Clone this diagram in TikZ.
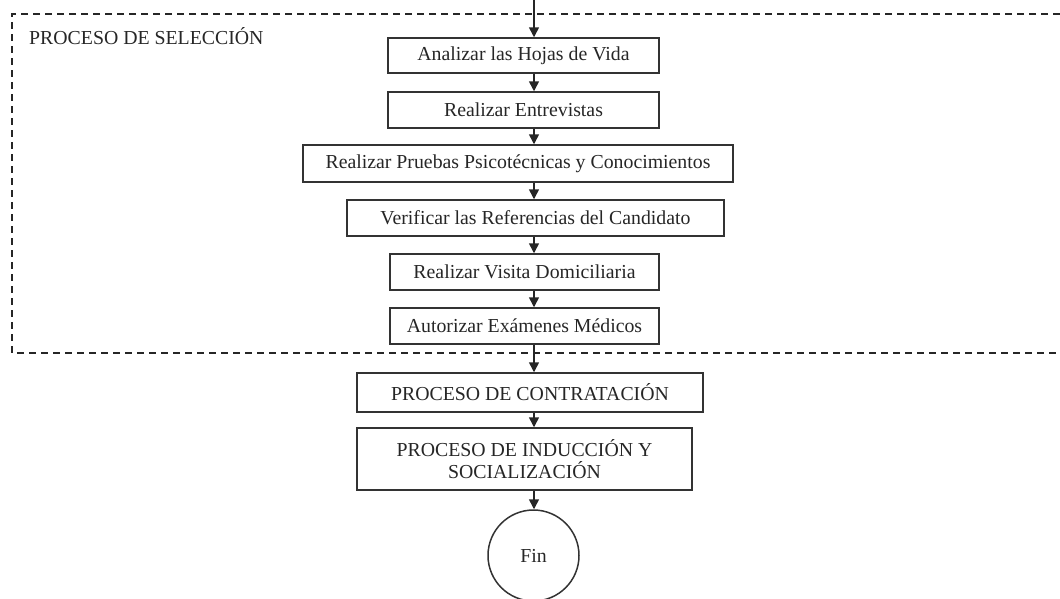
\documentclass[tikz,border=0pt]{standalone}
\usepackage{fontspec}
\setmainfont{Liberation Serif}
\usetikzlibrary{arrows.meta}
\begin{document}
\begin{tikzpicture}[x=1pt,y=-1pt,
  txt/.style={font=\fontsize{19.8}{22}\selectfont, text=black!85},
  box/.style={txt, draw=black!80, line width=1.5pt, rectangle, inner sep=0pt, align=center},
  arr/.style={draw=black!85, line width=1.5pt, -{Triangle[width=10pt,length=10pt]}},
  grp/.style={draw=black!85, line width=1.6pt, dash pattern=on 7pt off 5pt}]
\useasboundingbox (0,0) rectangle (1060,598);
\coordinate (start) at (534,0);
\draw[grp] (1060,14) -- (12,14) -- (12,353) -- (1060,353);
\node[txt, anchor=west, inner sep=0pt] (lbl) at (29,36) {PROCESO DE SELECCIÓN};
\node[box, minimum width=271pt, minimum height=35pt] (b1) at (523.5,55.5) {Analizar las Hojas de Vida};
\node[box, minimum width=271pt, minimum height=36pt] (b2) at (523.5,110) {Realizar Entrevistas};
\node[box, minimum width=430pt, minimum height=37pt] (b3) at (518,163.5) {Realizar Pruebas Psicotécnicas y Conocimientos};
\node[box, minimum width=377pt, minimum height=36pt] (b4) at (535.5,218) {Verificar las Referencias del Candidato};
\node[box, minimum width=269pt, minimum height=36pt] (b5) at (524.5,272) {Realizar Visita Domiciliaria};
\node[box, minimum width=269pt, minimum height=36pt] (b6) at (524.5,326) {Autorizar Exámenes Médicos};
\node[box, minimum width=346pt, minimum height=39pt] (b7) at (530,392.5) {PROCESO DE CONTRATACIÓN};
\node[box, minimum width=335pt, minimum height=62pt] (b8) at (524.5,459) {PROCESO DE INDUCCIÓN Y\\SOCIALIZACIÓN};
\node[box, circle, minimum size=91pt] (fin) at (533.5,555.5) {Fin};
\draw[arr] (start) -- (b1.north -| start);
\draw[arr] (b1.south -| start) -- (b2.north -| start);
\draw[arr] (b2.south -| start) -- (b3.north -| start);
\draw[arr] (b3.south -| start) -- (b4.north -| start);
\draw[arr] (b4.south -| start) -- (b5.north -| start);
\draw[arr] (b5.south -| start) -- (b6.north -| start);
\draw[arr] (b6.south -| start) -- (b7.north -| start);
\draw[arr] (b7.south -| start) -- (b8.north -| start);
\draw[arr] (b8.south -| start) -- (fin.north -| start);
\end{tikzpicture}
\end{document}
